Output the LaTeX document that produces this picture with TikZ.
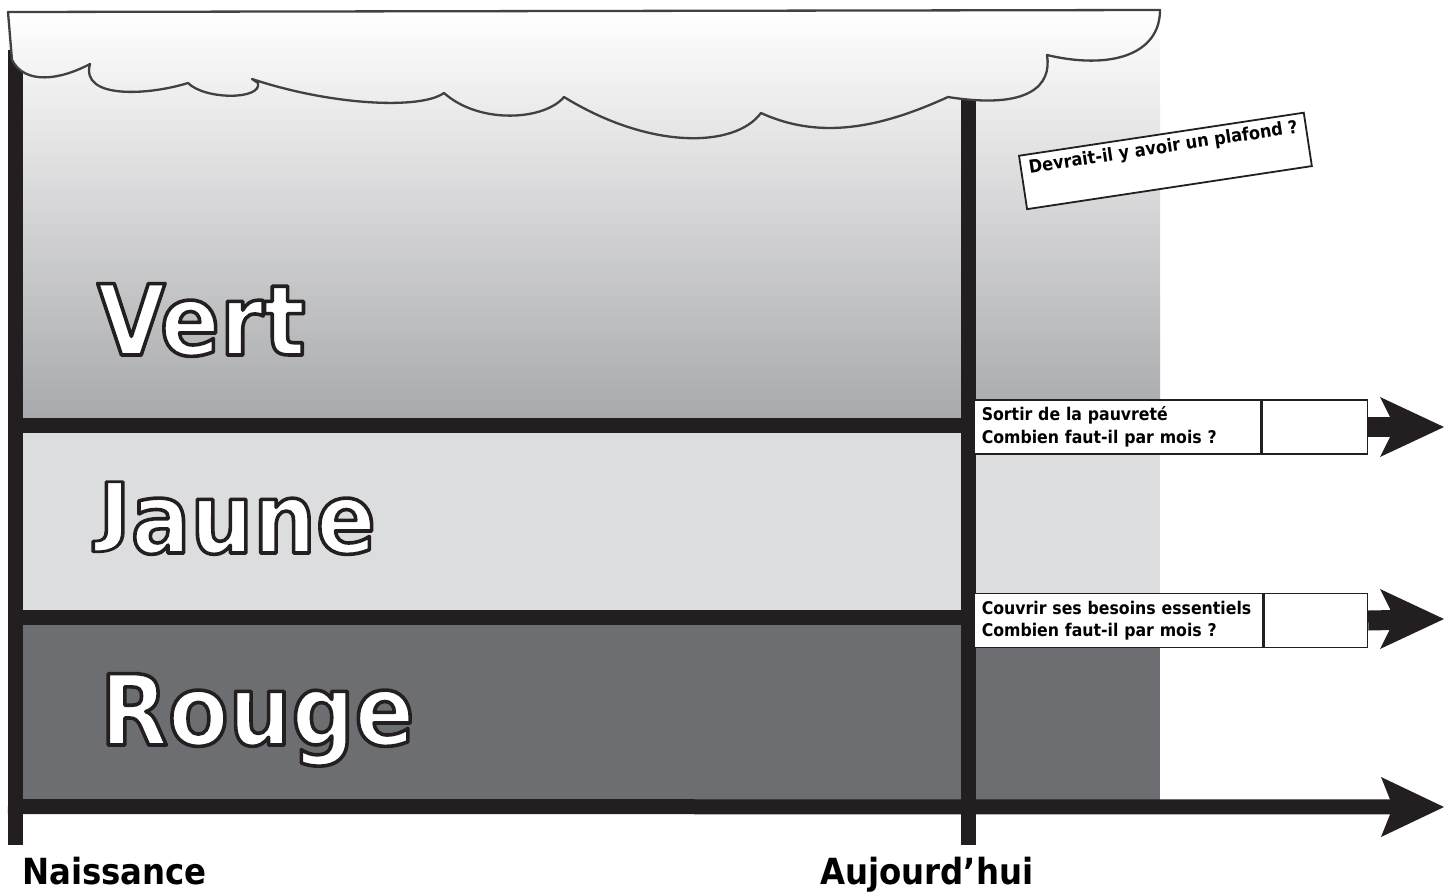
\documentclass[tikz,border=0pt]{standalone}
\usepackage{fontspec}
\setmainfont{DejaVu Sans Condensed}
\definecolor{barc}{HTML}{231F20}
\definecolor{cloudline}{HTML}{414042}
\definecolor{topgrey}{HTML}{A7A8AB}
\definecolor{midgrey}{HTML}{DCDDDF}
\definecolor{lowgrey}{HTML}{6D6E71}
\newcommand{\outl}[1]{{\color{white}\special{pdf:literal direct 2 Tr 3.6 w 1 j 0.137 0.122 0.125 RG}#1\special{pdf:literal direct 0 Tr}}}
\tikzset{
 bar/.style={draw=barc, line width=15pt},
 shaft/.style={draw=barc, line width=20pt, shorten >=54pt},
 head/.style={fill=barc},
 cell/.style={draw=barc, line width=1.6pt, fill=white, minimum height=54pt, inner sep=0pt, anchor=west},
 boxtext/.style={font=\bfseries\fontsize{17.5}{22.5}\selectfont, align=left},
 big/.style={anchor=base west, font=\bfseries\fontsize{98}{110}\selectfont, inner sep=0pt},
 lbl/.style={anchor=base west, font=\bfseries\fontsize{36}{40}\selectfont, inner sep=0pt},
 cloudstyle/.style={draw=cloudline, line width=2.3pt, line join=round},
}
\begin{document}
\begin{tikzpicture}[x=1pt,y=-1pt]
\useasboundingbox (0,0) rectangle (1444,892);
% background bands
\shade[top color=white, bottom color=topgrey] (8,12) rectangle (1160,426);
\fill[midgrey] (8,426) rectangle (1160,617);
\fill[lowgrey] (8,617) rectangle (1160,806);
% bars
\coordinate (LT) at (15.5,50);
\coordinate (LB) at (15.5,845);
\coordinate (VT) at (968,90);
\coordinate (VB) at (968,845);
\coordinate (H1L) at (8,425.5);
\coordinate (H1R) at (968,425.5);
\coordinate (H2L) at (8,617);
\coordinate (H2R) at (968,617);
\coordinate (BL) at (8,806.5);
\coordinate (T3) at (1444,807);
\draw[bar] (LT) -- (LB);
\draw[bar] (VT) -- (VB);
\draw[bar] (H1L) -- (H1R);
\draw[bar] (H2L) -- (H2R);
\draw[bar, shorten >=54pt] (BL) -- (T3);
\fill[head] (T3) -- ++(-63,-30) -- ++(9,22.5) -- ++(0,15) -- ++(-9,22.5) -- cycle;
% cloud
\path[save path=\cloudp] (8,12) -- (1160,10)
  .. controls (1160,55) and (1110,70) .. (1047,55)
  .. controls (1052,85) and (1030,110) .. (948,97)
  .. controls (880,128) and (820,140) .. (761,113)
  .. controls (735,148) and (650,150) .. (564,97)
  .. controls (545,120) and (480,125) .. (444,93)
  .. controls (420,110) and (330,105) .. (252,79)
  -- (258,83)
  .. controls (262,100) and (205,100) .. (188,83)
  .. controls (150,95) and (80,100) .. (90,64)
  .. controls (60,80) and (25,85) .. (12,60)
  -- cycle;
\begin{scope}
\clip[use path=\cloudp];
\shade[top color=white, bottom color=topgrey] (8,12) rectangle (1160,426);
\end{scope}
\draw[cloudstyle, use path=\cloudp];
% band labels
\node[big] (vert) at (97,355) {\outl{Vert}};
\node[big] (jaune) at (98,553) {\raisebox{16.3pt}{\scalebox{1}[0.77]{\outl{J}}}\outl{aune}};
\node[big] (rouge) at (100,745) {\outl{Rouge}};
% boxes and arrows
\node[cell, boxtext, text width=271pt, inner xsep=8pt] (b1) at (973,427) {Sortir de la pauvreté\\Combien faut-il par mois ?};
\node[cell, minimum width=105pt] (v1) at (b1.east) {};
\coordinate (T1) at (1444,427);
\draw[shaft] (v1.east) -- (T1);
\fill[head] (T1) -- ++(-64,-30) -- ++(10,20) -- ++(0,20) -- ++(-10,20) -- cycle;
\node[cell, boxtext, text width=273pt, inner xsep=8pt] (b2) at (973,620.5) {Couvrir ses besoins essentiels\\Combien faut-il par mois ?};
\node[cell, minimum width=103pt] (v2) at (b2.east) {};
\coordinate (T2) at (1444,619);
\draw[shaft] (v2.east) -- (T2);
\fill[head] (T2) -- ++(-64,-30) -- ++(10,20) -- ++(0,20) -- ++(-10,20) -- cycle;
% ceiling question
\node[draw=barc, line width=1.8pt, fill=white, rotate=8.6, anchor=north west, minimum width=288pt, minimum height=54pt, inner xsep=7pt, inner ysep=0pt, text height=14pt, text depth=30pt, font=\bfseries\fontsize{18}{22}\selectfont] (ceil) at (1018,155) {Devrait-il y avoir un plafond ?};
% axis labels
\node[lbl] (nais) at (22,884) {Naissance};
\node[lbl] (auj) at (820,884) {Aujourd’hui};
\end{tikzpicture}
\end{document}
